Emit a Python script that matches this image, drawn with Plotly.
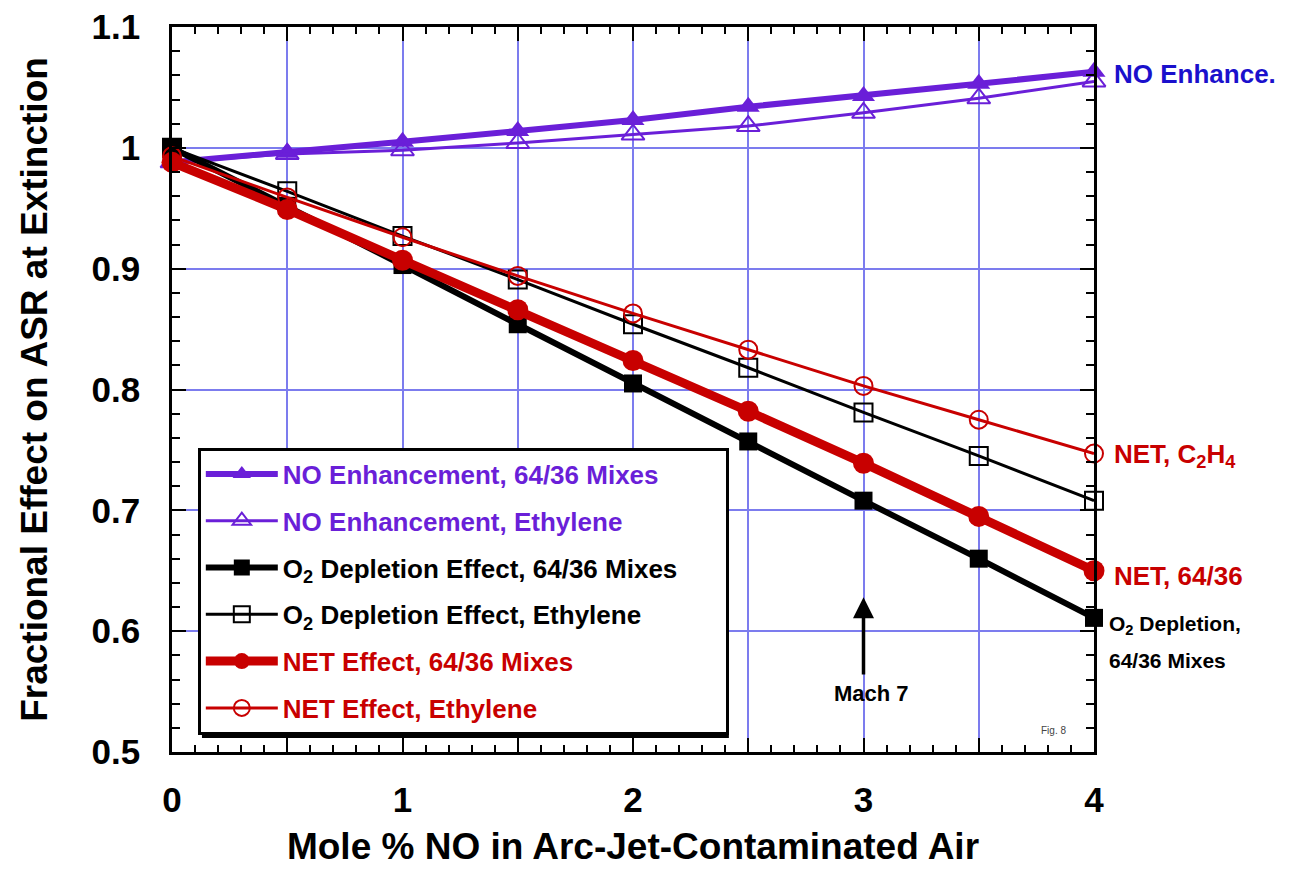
import plotly.graph_objects as go

# ---- data ----
x_mole = [0, 0.5, 1, 1.5, 2, 2.5, 3, 3.5, 4]
no_enh_6436 = [0.988, 0.996, 1.005, 1.014, 1.023, 1.034, 1.043, 1.053, 1.063]
no_enh_eth = [0.988, 0.995, 0.998, 1.004, 1.011, 1.018, 1.029, 1.041, 1.055]
o2_dep_6436 = [1.000, 0.952, 0.903, 0.854, 0.805, 0.757, 0.708, 0.660, 0.611]
o2_dep_eth = [1.000, 0.964, 0.927, 0.891, 0.854, 0.818, 0.781, 0.745, 0.708]
net_6436 = [0.988, 0.949, 0.907, 0.866, 0.824, 0.782, 0.739, 0.695, 0.650]
net_eth = [0.993, 0.959, 0.926, 0.894, 0.863, 0.833, 0.803, 0.775, 0.747]

x_tickvals = [0, 0.5, 1, 1.5, 2, 2.5, 3, 3.5, 4]
x_ticktext = ["0", "", "1", "", "2", "", "3", "", "4"]

series_names = [
    "NO Enhancement, 64/36 Mixes",
    "NO Enhancement, Ethylene",
    "O<sub>2</sub> Depletion Effect, 64/36 Mixes",
    "O<sub>2</sub> Depletion Effect, Ethylene",
    "NET Effect, 64/36 Mixes",
    "NET Effect, Ethylene",
]

PURPLE = "#6a1fd8"
BLUE = "#1a10cc"
RED = "#c80000"
BLACK = "#000000"
FONT = "Arial, Liberation Sans, sans-serif"

styles = [
    (no_enh_6436, PURPLE, 6, "triangle-up", 20, 0),
    (no_enh_eth, PURPLE, 3, "triangle-up-open", 20, 2),
    (o2_dep_6436, BLACK, 6, "square", 18, 0),
    (o2_dep_eth, BLACK, 3, "square-open", 18, 2),
    (net_6436, RED, 9, "circle", 21, 0),
    (net_eth, RED, 3, "circle-open", 18, 2),
]

fig = go.Figure()
for i, (ys, col, lw, sym, ms, mlw) in enumerate(styles):
    fig.add_trace(go.Scatter(
        x=x_mole, y=ys, mode="lines+markers",
        name=f"<span style='color:{col}'>{series_names[i]}</span>" + "\u00a0" * 6,
        legendgroup=f"g{i}",
        line=dict(color=col, width=lw),
        marker=dict(symbol=sym, size=ms, color=col, line=dict(color=col, width=mlw)),
        cliponaxis=False,
    ))

axis_common = dict(
    showline=True, linecolor="black", linewidth=2.5, mirror="ticks",
    ticks="inside", tickcolor="black", tickwidth=2, ticklen=14,
    showgrid=True, gridcolor="#7c7cee", gridwidth=2,
    zeroline=False, automargin=False, ticklabeloverflow="allow",
    tickfont=dict(family=FONT, size=35, color="black", weight="bold"),
)

fig.update_xaxes(
    range=[0, 4], tickvals=x_tickvals, ticktext=x_ticktext,
    minor=dict(dtick=0.1, ticks="inside", ticklen=7, tickcolor="black", tickwidth=2, showgrid=False),
    ticklabelstandoff=15,
    title=dict(text="Mole % NO in Arc-Jet-Contaminated Air",
               font=dict(family=FONT, size=37, color="black", weight="bold"), standoff=16),
    **axis_common,
)
fig.update_yaxes(
    range=[0.5, 1.1], dtick=0.1,
    minor=dict(dtick=0.02, ticks="inside", ticklen=8, tickcolor="black", tickwidth=2, showgrid=False),
    ticklabelstandoff=22,
    title=dict(text="Fractional Effect on ASR at Extinction",
               font=dict(family=FONT, size=37, color="black", weight="bold"), standoff=33),
    **axis_common,
)

annots = [
    dict(text="NO Enhance.", x=1.02, xref="paper", y=1.061, yref="y", xanchor="left",
         font=dict(family=FONT, size=26, color=BLUE, weight="bold"), showarrow=False),
    dict(text="NET, C<sub>2</sub>H<sub>4</sub>", x=1.019, xref="paper", y=0.745, yref="y", xanchor="left",
         font=dict(family=FONT, size=26, color=RED, weight="bold"), showarrow=False),
    dict(text="NET, 64/36", x=1.019, xref="paper", y=0.646, yref="y", xanchor="left",
         font=dict(family=FONT, size=26, color=RED, weight="bold"), showarrow=False),
    dict(text="O<sub>2</sub> Depletion,", x=1.014, xref="paper", y=0.605, yref="y", xanchor="left",
         font=dict(family=FONT, size=21, color=BLACK, weight="bold"), showarrow=False),
    dict(text="64/36 Mixes", x=1.014, xref="paper", y=0.5756, yref="y", xanchor="left",
         font=dict(family=FONT, size=21, color=BLACK, weight="bold"), showarrow=False),
    dict(text="", x=3, y=0.628, xref="x", yref="y", ax=3, ay=0.563, axref="x", ayref="y",
         showarrow=True, arrowhead=2, arrowsize=1.2, arrowwidth=3.5, arrowcolor="black"),
    dict(text="Mach 7", x=3.035, y=0.5485, xref="x", yref="y", showarrow=False,
         font=dict(family=FONT, size=22, color=BLACK, weight="bold")),
    dict(text="Fig. 8", x=0.972, y=0.02, xref="paper", yref="paper", showarrow=False,
         font=dict(family=FONT, size=10, color="#444444")),
]

shapes = [
    dict(type="rect", xref="paper", yref="paper", layer="above",
         x0=0.0325, x1=0.604, y0=0.0193, y1=0.4124,
         fillcolor="black", line=dict(width=0)),
]
fig.update_layout(annotations=annots, shapes=shapes)

fig.update_layout(
    width=1295, height=871,
    margin=dict(l=164, r=209, t=19, b=127),
    paper_bgcolor="white", plot_bgcolor="white",
    showlegend=True,
    legend=dict(
        x=0.028, y=0.42, xanchor="left", yanchor="top",
        bgcolor="white", bordercolor="black", borderwidth=3,
        font=dict(family=FONT, size=26, color="black", weight="bold"),
        traceorder="grouped", tracegroupgap=10, itemwidth=72,
    ),
)

fig.write_html("out.html")
